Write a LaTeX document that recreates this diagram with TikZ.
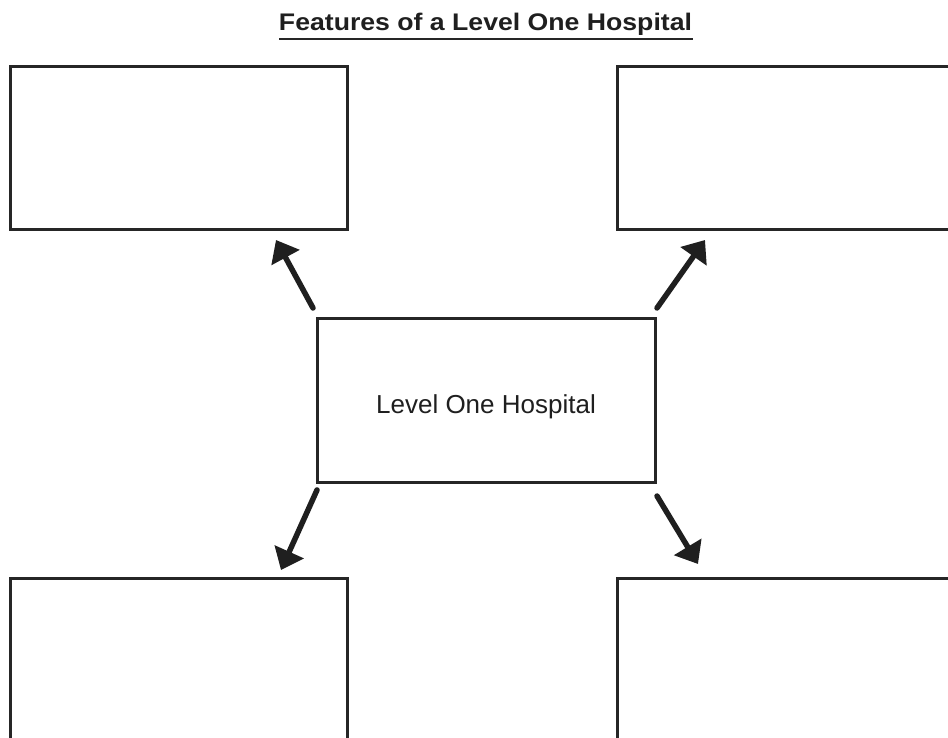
\documentclass[tikz,border=0pt]{standalone}
\usepackage{fontspec}
\setmainfont{Liberation Sans}
\usetikzlibrary{arrows.meta}
\begin{document}
\begin{tikzpicture}[x=1pt,y=-1pt,
  box/.style={draw=black!85,line width=3pt,rectangle,inner sep=0pt},
  arr/.style={line width=5.5pt,line cap=round,draw=black!88,-{Triangle[length=20pt,width=31pt]}}]
\useasboundingbox (0,0) rectangle (948,738);
\clip (0,0) rectangle (948,738);
\fill[white] (0,0) rectangle (948,738);
% title
\node[anchor=base,inner sep=0pt,text=black!88] (title) at (485.5,31)
  {\scalebox{1.11}[1]{\fontsize{24}{28}\selectfont\bfseries Features of a Level One Hospital}};
\coordinate (ul1) at (279,39);
\coordinate (ul2) at (693,39);
\draw[line width=2pt,black!85] (ul1) -- (ul2);
% boxes
\node[box,minimum width=337pt,minimum height=163pt] (tl) at (178.5,148.5) {};
\node[box,minimum width=363pt,minimum height=163pt] (tr) at (798.5,148.5) {};
\node[box,minimum width=337pt,minimum height=182pt] (bl) at (178.5,669) {};
\node[box,minimum width=363pt,minimum height=182pt] (br) at (798.5,669) {};
\node[box,minimum width=338pt,minimum height=164pt] (c) at (486,400) {};
\node[anchor=base,inner sep=0pt,text=black!88] (ctext) at (486,413)
  {\fontsize{26}{30}\selectfont Level One Hospital};
% arrows
\coordinate (s1) at (313,308); \coordinate (t1) at (276,240);
\coordinate (s2) at (657,308); \coordinate (t2) at (705,240);
\coordinate (s3) at (317,490); \coordinate (t3) at (281,570);
\coordinate (s4) at (657,496); \coordinate (t4) at (698,564);
\draw[arr] (s1) -- (t1);
\draw[arr] (s2) -- (t2);
\draw[arr] (s3) -- (t3);
\draw[arr] (s4) -- (t4);
\end{tikzpicture}
\end{document}
